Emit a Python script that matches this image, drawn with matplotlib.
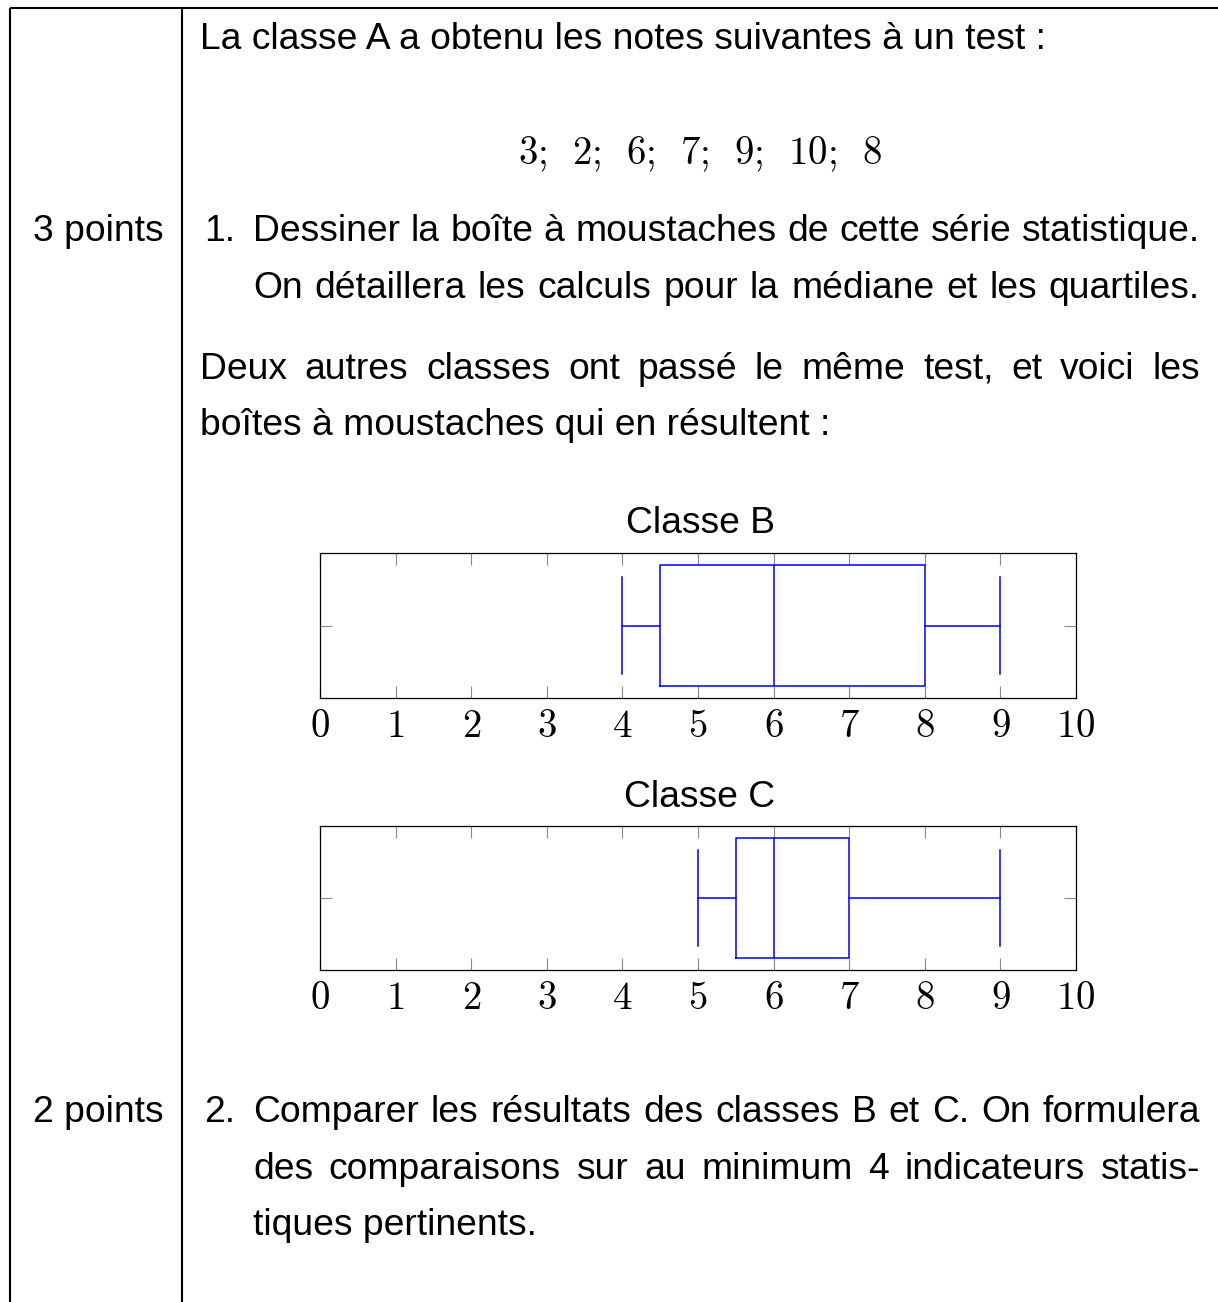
import matplotlib
matplotlib.use("Agg")
import matplotlib.pyplot as plt

# notes of class A (listed in the statement)
notes_A = [3, 2, 6, 7, 9, 10, 8]

# boxplot summaries for classes B and C
classes = ["Classe B", "Classe C"]
mins = [4, 5]
q1s = [4.5, 5.5]
medians = [6, 6]
q3s = [8, 7]
maxs = [9, 9]
xticks = list(range(0, 11))

plt.rcParams["font.family"] = ["Liberation Sans", "DejaVu Sans"]
plt.rcParams["mathtext.fontset"] = "cm"

W, H = 1218, 1302
FS = 26.8
FS_MATH = 28
fig = plt.figure(figsize=(W / 100, H / 100), dpi=100)

# background axes in pixel units for the table frame and the text
bg = fig.add_axes([0, 0, 1, 1])
bg.set_xlim(0, W)
bg.set_ylim(H, 0)
bg.axis("off")

lw = 1.5
bg.plot([10, W], [8, 8], color="black", lw=lw, solid_capstyle="butt")
bg.plot([10, 10], [8, H], color="black", lw=lw, solid_capstyle="butt")
bg.plot([182, 182], [8, H], color="black", lw=lw, solid_capstyle="butt")

renderer = fig.canvas.get_renderer()


def put(x, y, s, size=FS, **kw):
    return bg.text(x, y, s, fontsize=size, va="baseline", ha=kw.pop("ha", "left"), **kw)


def justify(x0, x1, y, line):
    words = line.split(" ")
    texts = [put(0, y, w) for w in words]
    widths = [t.get_window_extent(renderer).width for t in texts]
    gap = (x1 - x0 - sum(widths)) / (len(words) - 1)
    x = x0
    for t, w in zip(texts, widths):
        t.set_x(x)
        x += w + gap


put(200, 49, "La classe A a obtenu les notes suivantes à un test :")
notes_str = r"$" + r";\enspace ".join(str(v) for v in notes_A) + r"$"
put(700, 164, notes_str, size=FS_MATH, ha="center")

put(33, 241, "3 points")
put(204, 241, "1.")
justify(253, 1200, 241, "Dessiner la boîte à moustaches de cette série statistique.")
justify(253, 1200, 298, "On détaillera les calculs pour la médiane et les quartiles.")
justify(200, 1200, 379, "Deux autres classes ont passé le même test, et voici les")
put(200, 435, "boîtes à moustaches qui en résultent :")

put(33, 1122, "2 points")
put(204, 1122, "2.")
justify(253, 1200, 1122, "Comparer les résultats des classes B et C. On formulera")
justify(253, 1200, 1179, "des comparaisons sur au minimum 4 indicateurs statis-")
put(253, 1235, "tiques pertinents.")

# the two boxplots
ax_tops = [553, 826]
ax_bottoms = [698, 970]
title_base = [533, 807]
blue = "#0000ff"
for i, name in enumerate(classes):
    top, bot = ax_tops[i], ax_bottoms[i]
    ax = fig.add_axes([320 / W, (H - bot) / H, 756 / W, (bot - top) / H])
    stats = [dict(med=medians[i], q1=q1s[i], q3=q3s[i],
                  whislo=mins[i], whishi=maxs[i], label=name)]
    ax.bxp(stats, positions=[1], widths=0.8, capwidths=0.64,
           orientation="horizontal", showfliers=False,
           boxprops=dict(color=blue, lw=1.1),
           whiskerprops=dict(color=blue, lw=1.1),
           capprops=dict(color=blue, lw=1.1),
           medianprops=dict(color=blue, lw=1.1))
    ax.set_xlim(0, 10)
    ax.set_ylim(0.52, 1.48)
    ax.set_xticks(xticks)
    ax.set_xticklabels([f"${v}$" for v in xticks])
    ax.set_yticks([1])
    ax.set_yticklabels([])
    ax.tick_params(direction="in", length=8.6, width=0.8, color="#888888",
                   top=True, right=True, labelsize=FS_MATH, pad=8)
    for sp in ax.spines.values():
        sp.set_linewidth(0.9)
    put(700, title_base[i], name, ha="center")

fig.savefig("out.png", dpi=100)
